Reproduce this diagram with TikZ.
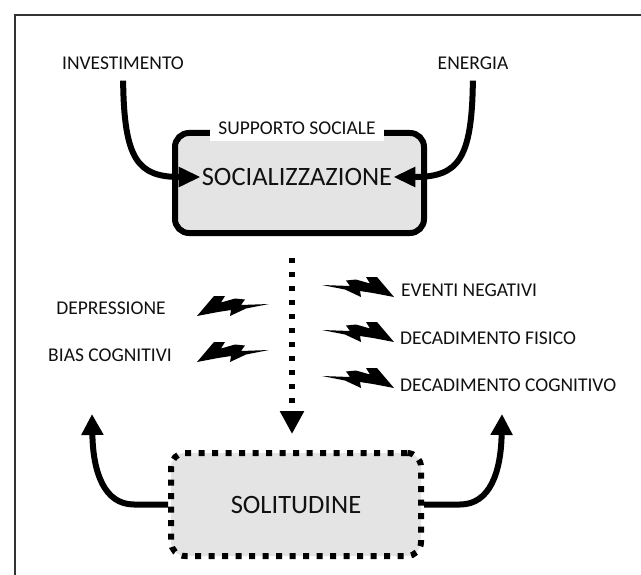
\documentclass[tikz,border=0pt]{standalone}
\usepackage{fontspec}
\setmainfont{Carlito}
\usetikzlibrary{arrows.meta}
\definecolor{txt}{HTML}{111111}
\definecolor{boxfill}{HTML}{E4E4E4}
\definecolor{framecol}{HTML}{333333}
\begin{document}
\begin{tikzpicture}[x=1bp,y=-1bp,
  lbl/.style={font=\fontsize{19.5bp}{22bp}\selectfont, text=txt, inner sep=0pt},
  big/.style={font=\fontsize{26.5bp}{30bp}\selectfont, text=txt, inner sep=1bp},
  boxstyle/.style={draw, line width=6bp, rounded corners=14bp, fill=boxfill, inner sep=0pt},
  curve/.style={line width=6bp, -{Triangle[length=22bp,width=19bp]}},
  dotline/.style={line width=5.5bp, dash pattern=on 5bp off 9bp, -{Triangle[length=23bp,width=23bp]}},
  bolt/.pic={\fill[black] (0,0) -- (17,-20) -- (28,-20) -- (24,-13.5) -- (38,-17.5) -- (48,-16.5)
     -- (44,-11) -- (72,-12) -- (49,-7.5) -- (33,0) -- (34,-6) -- (21,-4) -- cycle;}
]
\useasboundingbox (0,0) rectangle (641,575);
\fill[white] (0,0) rectangle (641,575);
\draw[line width=1.2bp, framecol] (15,575) -- (15,15) -- (641,15);

% top labels
\node[lbl] (inv) at (123,63) {INVESTIMENTO};
\node[lbl] (ene) at (473,63) {ENERGIA};

% top box
\node[boxstyle, minimum width=249bp, minimum height=100bp] (socbox) at (299.5,183) {};
\node[lbl, fill=white, inner xsep=8bp, minimum height=27bp] (sup) at (297,128) {SUPPORTO SOCIALE};
\node[big] (soc) at (297,177) {SOCIALIZZAZIONE};

\draw[curve, shorten <=11bp] (inv.south) .. controls (124,160) and (138,177) .. (soc.west);
\draw[curve, shorten <=11bp] (ene.south) .. controls (472,160) and (458,177) .. (soc.east);

% dotted arrow
\coordinate (dtop) at (292,258);
\coordinate (dbot) at (292,434);
\draw[dotline] (dtop) -- (dbot);

% bolts
\path (197,316) pic {bolt};
\path (197,362) pic {bolt};
\path (394,297) pic[xscale=-1] {bolt};
\path (394,342) pic[xscale=-1] {bolt};
\path (394,388) pic[xscale=-1] {bolt};

\node[lbl] (dep) at (111,308) {DEPRESSIONE};
\node[lbl] (bias) at (110,355) {BIAS COGNITIVI};
\node[lbl, anchor=west] (ev) at (401,290) {EVENTI NEGATIVI};
\node[lbl, anchor=west] (df) at (400,338) {DECADIMENTO FISICO};
\node[lbl, anchor=west] (dc) at (400,385) {DECADIMENTO COGNITIVO};

% bottom box
\node[boxstyle, dash pattern=on 6bp off 7.5bp, minimum width=250bp, minimum height=103bp, big] (sol) at (296,504.5) {SOLITUDINE};

\coordinate (lu) at (92,414);
\coordinate (ru) at (502,414);
\draw[curve, -{Triangle[length=21bp,width=21bp]}] (sol.west) -- (134,504.5) .. controls (104,504.5) and (93,472) .. (lu);
\draw[curve, -{Triangle[length=21bp,width=21bp]}] (sol.east) -- (460,504.5) .. controls (490,504.5) and (501,472) .. (ru);
\end{tikzpicture}
\end{document}
